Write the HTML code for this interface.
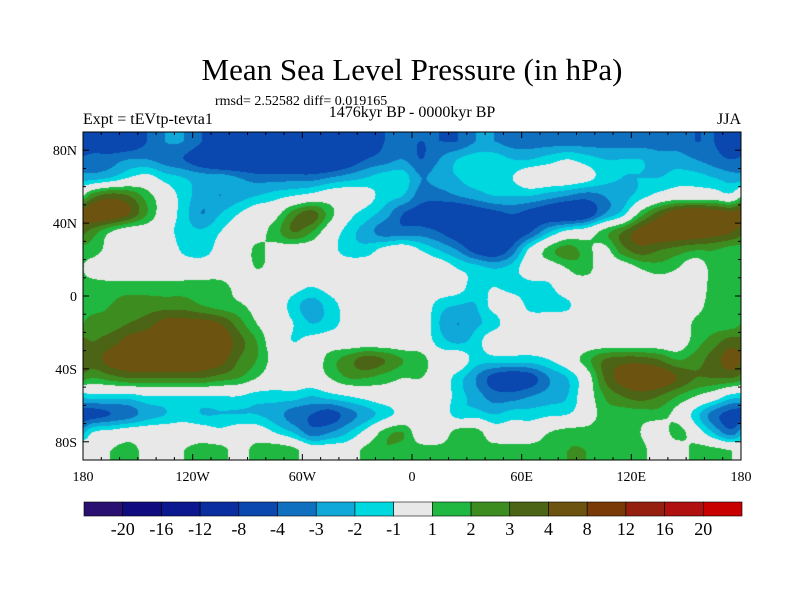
<!DOCTYPE html>
<html><head><meta charset="utf-8">
<style>
body{margin:0;background:#fff;}
#root{position:relative;width:800px;height:600px;background:#fff;font-family:"Liberation Serif",serif;color:#000;overflow:hidden;}
.t{position:absolute;white-space:nowrap;}
</style></head>
<body>
<div id="root">
<div class="t" style="left:0;width:824px;text-align:center;top:52px;font-size:31px;">Mean Sea Level Pressure (in hPa)</div>
<div class="t" style="left:215px;top:94px;font-size:14px;">rmsd= 2.52582 diff= 0.019165</div>
<div class="t" style="left:0;width:824px;text-align:center;top:104px;font-size:16px;">1476kyr BP - 0000kyr BP</div>
<div class="t" style="left:83px;top:111px;font-size:16px;">Expt = tEVtp-tevta1</div>
<div class="t" style="right:59px;top:111px;font-size:16px;">JJA</div>
<canvas id="map" width="658" height="328" style="position:absolute;left:83px;top:132px;"></canvas>
<svg id="ov" width="800" height="600" style="position:absolute;left:0;top:0;"></svg>
</div>
<script>
const lonTicks=[-180,-120,-60,0,60,120,180];
const lonLabels=["180","120W","60W","0","60E","120E","180"];
const latTicks=[80,40,0,-40,-80];
const latLabels=["80N","40N","0","40S","80S"];
const levels=[-20,-16,-12,-8,-4,-3,-2,-1,1,2,3,4,8,12,16,20];
const levelColors=["#2a1070","#100c80","#0c1890","#0a2ea0","#0a48b0","#1070c0","#10a8d8","#00d8e0","#e8e8e8","#20b840","#3c8c20","#4c6416","#6c5410","#7a3a08","#962010","#b01010","#c80000"];
// rows lat 85..-85, columns lon -175..175 (10 deg)
const westField=[
[-5,-5,-5,-4,-3,-3,-4,-5,-5,-6,-6,-6,-6,-6,-5,-5,-4,-4],
[-3.5,-3.5,-3,-3,-3.5,-4,-5,-6,-6,-6,-6,-6,-6,-6,-5,-4,-3.5,-3],
[-2.5,-2,-1,-0.5,-1.5,-2,-2.5,-2.5,-3,-3.5,-3.5,-3.5,-3.5,-3,-2.5,-2,-1.5,-1.5],
[2.5,3.5,3,1.5,0,-1.5,-2.5,-3,-2.5,-2,-1.5,-1,-0.5,0,0,-0.5,-1.5,-2],
[5,5,4,2,0,-1.5,-3,-2,-1,0,0.5,2.5,3.5,1.5,-0.5,-1.5,-2.5,-4],
[2.5,1,0,0,-0.5,-1.5,-1.8,-1,0,0.5,1.5,3,2,0,-1.5,-2.5,-3.5,-3.5],
[1.5,0.5,0,0,0,-1.2,-1.5,-0.5,0,1.2,0.5,0,0,-0.5,-1.5,-1.5,-0.5,0],
[0.5,0,0,0,0,0,0,0,0,1,0.5,0,0,0,0,0,0,0],
[1.5,1.5,1.5,1.5,1.5,1.5,1.5,1.5,0.5,0,0,-0.5,-1,-0.5,0,0,0,0],
[1.5,2,2.5,2.5,2.5,2.5,2,1.5,1.2,0.5,0,-1.5,-2.5,-1.5,-0.5,0,0,0],
[2.5,2.5,3,3.5,4.5,4.5,4.5,4,2.5,1,0,-1,-2,-1.5,-0.5,0,0,0],
[3,3.5,4.5,5,5.5,5.5,5.5,5,3.5,2,0,-1,-0.5,0,0,0,0,0],
[3.5,4.5,5,5.5,5.5,5.5,5,4.5,3,2,0.5,0,0,1.5,2.5,3.5,3,2],
[2,2.5,3,3,3,3,3,2.5,2,1,0,0,0,1,2,2,1.5,1],
[-1.5,-1.5,-1.5,-1,-1,-1,-1,-1,-1,-1.5,-1.5,-1.5,-2,-1.5,-1,-0.5,0,0],
[-4.5,-4,-3.5,-2.5,-2,-1.5,-2,-2,-2,-2,-2.5,-3.5,-4,-4.5,-3.5,-2.5,-1.5,-0.5],
[-1,-0.5,0,0,0,0,0,-0.5,0,0,-1,-2,-3.5,-3,-2,-0.5,1.5,2],
[0,1,1.5,0.5,0,1,1.5,1.5,0.5,1.5,2,1.5,0,0,0,1.5,2,1.5]];
const eastField=[
[-4,-4,-4,-3,-3,-3.5,-3.5,-3.5,-3.5,-3.5,-3.5,-3.5,-3.5,-3.5,-3.5,-4,-4,-5],
[-4,-3,-2,-1.5,-1.5,-2,-2,-1.5,-1,-1.5,-2,-2,-2,-2.5,-2.5,-3,-3.5,-4],
[-3,-2.5,-2,-1.5,-1.5,-1,0,0,0,-0.5,-1.5,-2,-2,-2,-1.5,-1.5,-2,-2.5],
[-3.5,-3.5,-3,-2.5,-2,-2,-2,-2.5,-3,-3.5,-3,-2.5,-1.5,-0.5,0,0,0,-0.5],
[-4.5,-5,-5.5,-5,-4.5,-4,-4.5,-5,-5.5,-5,-3,-1.5,1.5,3.5,5,5.5,5,4.5],
[-3.5,-4,-5,-6,-6,-5,-4,-2,-0.5,0,1.5,3,4.5,5,5,5,4.5,4],
[-1,-2,-3,-4.5,-5,-3.5,-0.5,1.5,2.5,1.5,0.5,2.5,3.5,3,2.5,2,2,1.5],
[0,0,-1,-1.5,-2,-1.5,0,0,1,1.5,0,0,1,1.5,1,0,1.5,1.5],
[0,0,-0.5,-1.5,-1,-1.5,-1.5,-1.2,0,0,0,0,0,0,0,0,1.5,1.5],
[0,-1.5,-2,-2,-0.5,0,-1.5,-1.5,-1.2,0,0,0,0,0,0,0.5,1.5,1.5],
[0,-2,-3,-2.2,-1.5,0,0,0,0,0,0,0,0,0,0,1.2,1.5,1.5],
[0,-1.5,-2.2,-1.5,0,0,0,0,0,0,0,0,0,0,0,1.5,2.5,3.5],
[1.5,0,0,-1.5,-1.5,-1.5,-1.5,-1,0,1.5,3,3.5,3.5,3,2,2.5,3.5,4.5],
[1,0,-1.5,-3,-4.5,-5,-4.5,-3,-2,0,3,4.5,5,5,4,3,3,3],
[0,0,-1.5,-2.5,-3.5,-3.5,-3,-2.5,-2,0,2,3,3.5,3,2,1,0,-1.5],
[0,0,-1.5,-1.5,-2,-1.5,-1.5,-1.2,-1,0,1.5,1.5,1.5,1.5,0.5,-1.5,-3.5,-4.5],
[0,0,1.5,1.5,0,0,0,1,1.5,1.5,1.5,1.5,1,0,1.5,0,-2,-3.5],
[1.5,1.5,1.5,1,1.5,1.5,1.5,1.5,2,2,1.5,1.5,1.5,0,0,1.5,1.5,1]];

const MX=83,MY=132,MW=658,MH=328;
const xOf=lon=>MX+(lon+180)/360*MW;
const yOf=lat=>MY+(90-lat)/180*MH;
const field=westField.map((r,i)=>r.concat(eastField[i]));
function cr(p0,p1,p2,p3,t){return 0.5*((2*p1)+(-p0+p2)*t+(2*p0-5*p1+4*p2-p3)*t*t+(-p0+3*p1-3*p2+p3)*t*t*t);}
function g(r,c){r=Math.max(0,Math.min(17,r));c=((c%36)+36)%36;return field[r][c];}
function val(lon,lat){
  const c=(lon+175)/10, r=Math.max(0,Math.min(17,(85-lat)/10));
  const c0=Math.floor(c), fc=c-c0, r0=Math.min(16,Math.floor(r)), fr=r-r0;
  const rows=[];
  for(let k=-1;k<=2;k++){const rr=r0+k;rows.push(cr(g(rr,c0-1),g(rr,c0),g(rr,c0+1),g(rr,c0+2),fc));}
  return cr(rows[0],rows[1],rows[2],rows[3],fr);
}
function idx(v){let i=0;while(i<levels.length&&v>=levels[i])i++;return i;}
function hex(h){return [parseInt(h.substr(1,2),16),parseInt(h.substr(3,2),16),parseInt(h.substr(5,2),16)];}
const rgb=levelColors.map(hex);
const cv=document.getElementById('map'),ctx=cv.getContext('2d');
const img=ctx.createImageData(MW,MH);
for(let py=0;py<MH;py++){for(let px=0;px<MW;px++){
  const lon=-180+(px+0.5)/MW*360, lat=90-(py+0.5)/MH*180;
  const c=rgb[idx(val(lon,lat))];const k=(py*MW+px)*4;
  img.data[k]=c[0];img.data[k+1]=c[1];img.data[k+2]=c[2];img.data[k+3]=255;}}
ctx.putImageData(img,0,0);

const NS='http://www.w3.org/2000/svg',svg=document.getElementById('ov');
function mk(t,a){const e=document.createElementNS(NS,t);for(const k in a)e.setAttribute(k,a[k]);svg.appendChild(e);return e;}
const fr=mk('rect',{x:MX,y:MY,width:MW,height:MH,fill:'none',stroke:'#000','stroke-width':1});


for(let l=-180;l<=180;l+=10){const x=xOf(l);const big=l%60===0;
  mk('line',{x1:x,y1:MY+MH,x2:x,y2:MY+MH-(big?6:3),stroke:'#000'});
  mk('line',{x1:x,y1:MY,x2:x,y2:MY+(big?6:3),stroke:'#000'});}
for(let l=-90;l<=90;l+=10){const y=yOf(l);const big=l%40===0;
  mk('line',{x1:MX,y1:y,x2:MX+(big?6:3),y2:y,stroke:'#000'});
  mk('line',{x1:MX+MW,y1:y,x2:MX+MW-(big?6:3),y2:y,stroke:'#000'});}
lonTicks.forEach((l,i)=>{const t=mk('text',{x:xOf(l),y:481,'text-anchor':'middle','font-size':14,'font-family':'Liberation Serif,serif'});t.textContent=lonLabels[i];
  
  });
latTicks.forEach((l,i)=>{const t=mk('text',{x:77,y:yOf(l)+5,'text-anchor':'end','font-size':14,'font-family':'Liberation Serif,serif'});t.textContent=latLabels[i];
  
  });
const CX=84,CW=658,CY=502,CH=14,bw=CW/levelColors.length;
levelColors.forEach((c,i)=>{const r=mk('rect',{x:CX+i*bw,y:CY,width:bw,height:CH,fill:c,stroke:'#000','stroke-width':0.6});
  
  });
levels.forEach((v,i)=>{const t=mk('text',{x:CX+(i+1)*bw,y:535,'text-anchor':'middle','font-size':18,'font-family':'Liberation Serif,serif'});t.textContent=v;
  
  });
</script>
</body></html>
